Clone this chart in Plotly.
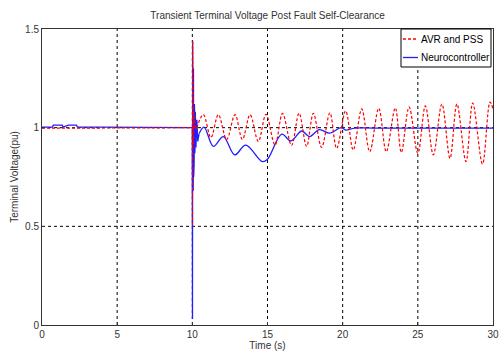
import plotly.graph_objects as go

# ---- data ----
avr_fault_t = [0, 2, 4, 6, 8, 9.98, 10.0, 10.01, 10.02, 10.035, 10.05, 10.07, 10.1, 10.2, 10.3]
avr_fault_v = [0.997, 0.997, 0.997, 0.997, 0.997, 0.997, 1.0, 0.5, 1.44, 0.75, 1.16, 0.9, 1.08, 0.99, 1.0]

avr_post_t = [10.3, 10.73, 11.24, 11.73, 12.28, 12.84, 13.33, 13.84, 14.39, 14.9, 15.5, 16.0, 16.6,
              17.1, 17.6, 18.05, 18.6, 19.15, 19.6, 20.2, 20.7, 21.27, 21.8, 22.4, 22.9, 23.5,
              23.9, 24.42, 25.0, 25.5, 26.03, 26.6, 27.14, 27.6, 28.2, 28.65, 29.3, 29.8, 30.0]
avr_post_v = [1.0, 1.066, 0.95, 1.066, 0.94, 1.066, 0.94, 1.066, 0.93, 1.068, 0.912, 1.072, 0.91,
              1.073, 0.905, 1.073, 0.9, 1.075, 0.895, 1.085, 0.887, 1.095, 0.878, 1.098, 0.878, 1.1,
              0.875, 1.105, 0.87, 1.11, 0.862, 1.12, 0.845, 1.12, 0.828, 1.125, 0.816, 1.13, 1.095]

neuro_fault_t = [0, 0.7, 0.75, 1.35, 1.4, 1.75, 2.3, 2.35, 4, 7, 9.98, 10.0, 10.01, 10.02, 10.03,
                 10.045, 10.06, 10.075, 10.09, 10.1, 10.12, 10.14, 10.17, 10.2, 10.24, 10.3, 10.36, 10.45]
neuro_fault_v = [1.003, 1.003, 1.013, 1.013, 1.003, 1.013, 1.013, 1.003, 1.003, 1.0, 1.0, 1.0, 0.03,
                 1.44, 0.64, 1.4, 0.68, 1.3, 0.75, 1.16, 0.82, 1.12, 0.87, 1.08, 0.9, 1.04, 0.93, 0.97]

neuro_post_t = [10.45, 10.78, 11.4, 12.06, 12.82, 13.55, 14.66, 15.0, 15.95, 16.55, 17.28, 17.79,
                18.45, 19.12, 19.9, 20.2, 20.8, 22, 24, 26, 28, 30]
neuro_post_v = [0.97, 1.003, 0.905, 0.955, 0.862, 0.912, 0.828, 0.84, 0.967, 0.933, 0.983, 0.955,
                0.99, 0.972, 1.0, 0.988, 0.998, 0.998, 0.998, 0.998, 0.998, 0.998]

series_names = ["AVR and PSS", "Neurocontroller"]
x_ticks = [0, 5, 10, 15, 20, 25, 30]
y_ticks = [0, 0.5, 1, 1.5]
y_tick_labels = ["0", "0.5", "1", "1.5"]

BLUE = "rgb(30,30,255)"
RED = "rgb(255,0,0)"
RED_DASH = "3px,2px"
W, H = 504, 356
ML, MR, MT, MB = 42, 11, 29, 31
FONT = "Liberation Sans, Arial, sans-serif"

fig = go.Figure()
fig.add_trace(go.Scatter(x=neuro_fault_t, y=neuro_fault_v, mode="lines", name=series_names[1],
                         line=dict(color=BLUE, width=1.3)))
fig.add_trace(go.Scatter(x=neuro_post_t, y=neuro_post_v, mode="lines", name=series_names[1],
                         line=dict(color=BLUE, width=1.3, shape="spline", smoothing=1)))
fig.add_trace(go.Scatter(x=avr_fault_t, y=avr_fault_v, mode="lines", name=series_names[0],
                         line=dict(color=RED, width=1.2, dash=RED_DASH)))
fig.add_trace(go.Scatter(x=avr_post_t, y=avr_post_v, mode="lines", name=series_names[0],
                         line=dict(color=RED, width=1.2, dash=RED_DASH, shape="spline", smoothing=1)))

# dashed grid lines (black, Matlab style)
for xv in x_ticks[1:-1]:
    fig.add_shape(type="line", xref="x", yref="paper", x0=xv, x1=xv, y0=0, y1=1,
                  line=dict(color="black", width=1, dash="3px,3px"), layer="below")
for yv in y_ticks[1:-1]:
    fig.add_shape(type="line", xref="paper", yref="y", x0=0, x1=1, y0=yv, y1=yv,
                  line=dict(color="black", width=1, dash="3px,3px"), layer="below")

# Matlab-style compact legend box (top-right, inside axes); paper = plot area
def px(x):
    return (x - ML) / (W - ML - MR)
def py(y):
    return (H - MB - y) / (H - MB - MT)

fig.add_shape(type="rect", xref="paper", yref="paper", x0=px(401), x1=px(491), y0=py(29), y1=py(67),
              line=dict(color="black", width=1), fillcolor="white", layer="above")
legend_rows = [(series_names[0], RED, RED_DASH, 39), (series_names[1], BLUE, "solid", 57.5)]
for name, col, dash, ypix in legend_rows:
    fig.add_shape(type="line", xref="paper", yref="paper", x0=px(403), x1=px(418), y0=py(ypix), y1=py(ypix),
                  line=dict(color=col, width=1.3, dash=dash), layer="above")
    fig.add_annotation(xref="paper", yref="paper", x=px(418.5), y=py(ypix), text=name, showarrow=False,
                       xanchor="left", yanchor="middle",
                       font=dict(family=FONT, size=10, color="black"))

fig.update_layout(
    width=W, height=H,
    margin=dict(l=ML, r=MR, t=MT, b=MB, autoexpand=False),
    paper_bgcolor="white", plot_bgcolor="white",
    font=dict(family=FONT, size=10, color="#333"),
    title=dict(text="Transient Terminal Voltage Post Fault Self-Clearance",
               x=0.531, xanchor="center", y=1 - 15 / H, yanchor="middle",
               font=dict(family=FONT, size=10, color="#333")),
    showlegend=False,
    xaxis=dict(range=[0, 30], tickvals=x_ticks, showgrid=False, zeroline=False, automargin=False,
               showline=True, linecolor="#333", linewidth=1, mirror=True,
               ticks="inside", ticklen=3, tickcolor="#333",
               title=dict(text="Time (s)", standoff=1, font=dict(size=10)),
               tickfont=dict(size=10)),
    yaxis=dict(range=[0, 1.5], tickvals=y_ticks, ticktext=y_tick_labels, showgrid=False,
               zeroline=False, showline=True, linecolor="#333", linewidth=1, mirror=True,
               automargin=False,
               ticks="inside", ticklen=3, tickcolor="#333",
               title=dict(text="Terminal Voltage(pu)", standoff=4, font=dict(size=10)),
               tickfont=dict(size=10)),
)

fig.write_html("out.html")
